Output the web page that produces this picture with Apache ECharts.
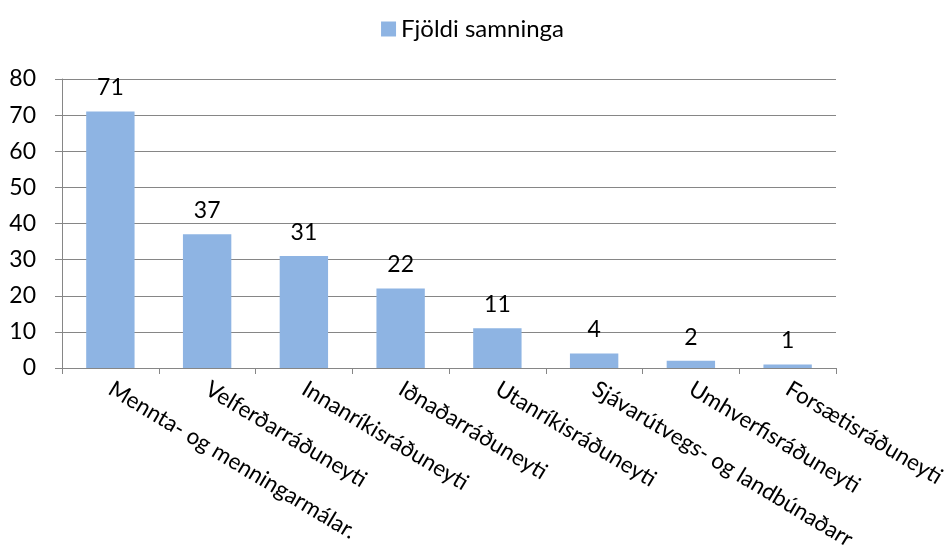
<!DOCTYPE html>
<html><head><meta charset="utf-8">
<script src="https://cdn.jsdelivr.net/npm/echarts@6/dist/echarts.min.js"></script>
<style>html,body{margin:0;padding:0;background:#fff}#c{width:945px;height:547px}</style>
</head><body><div id="c"></div>
<script>
const categories = ["Mennta- og menningarmálar.","Velferðarráðuneyti","Innanríkisráðuneyti","Iðnaðarráðuneyti","Utanríkisráðuneyti","Sjávarútvegs- og landbúnaðarr","Umhverfisráðuneyti","Forsætisráðuneyti"];
const values = [71,37,31,22,11,4,2,1];
const seriesName = "Fjöldi samninga";
const yTicks = {min:0, max:80, interval:10};
const FONT = "Lato";
const chart = echarts.init(document.getElementById('c'));
chart.setOption({
  animation:false,
  textStyle:{fontFamily:FONT},
  legend:{top:12,left:'center',itemWidth:15,itemHeight:15,icon:'rect',
    textStyle:{fontFamily:FONT,fontSize:24,color:'#000'},data:[seriesName]},
  grid:{left:62,right:109,top:79,bottom:179,containLabel:false,outerBoundsMode:'none'},
  xAxis:{type:'category',data:categories,
    axisLine:{lineStyle:{color:'#868686',width:1}},
    axisTick:{show:true,length:6,lineStyle:{color:'#868686'},alignWithLabel:false},
    axisLabel:{rotate:-31,interval:0,margin:19,fontFamily:FONT,fontSize:22.5,color:'#000'}},
  yAxis:{type:'value',min:yTicks.min,max:yTicks.max,interval:yTicks.interval,
    axisLine:{show:true,lineStyle:{color:'#868686'}},
    axisTick:{show:true,length:7,lineStyle:{color:'#868686'}},
    splitLine:{lineStyle:{color:'#868686',width:1}},
    axisLabel:{margin:26,fontFamily:FONT,fontSize:23,color:'#000'}},
  series:[{name:seriesName,type:'bar',data:values,barWidth:'50%',
    itemStyle:{color:'#8EB4E3'},
    label:{show:true,position:'top',distance:12,fontFamily:FONT,fontSize:23,color:'#000'}}]
});
</script></body></html>
